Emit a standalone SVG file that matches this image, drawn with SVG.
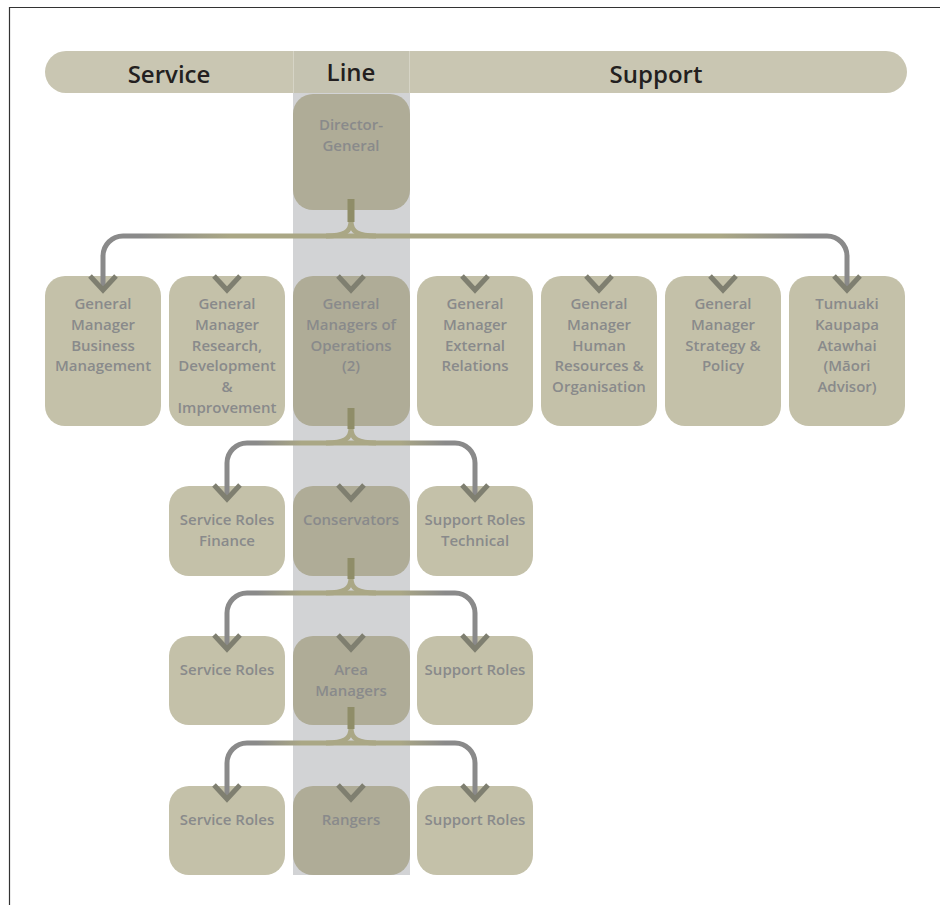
<svg xmlns="http://www.w3.org/2000/svg" width="940" height="905" viewBox="0 0 940 905">
<defs>
<style>
.hdr{font-family:"Open Sans","Liberation Sans",sans-serif;font-weight:600;font-size:24px;fill:#231f20;text-anchor:middle}
.nt{font-family:"Open Sans","Liberation Sans",sans-serif;font-weight:600;font-size:15px;fill:#898a8b;text-anchor:middle}
.n{fill:#c4c1a9}
.nl{fill:#afac97}
.stem{fill:#8f8d68}
.ln{fill:none;stroke-width:5;stroke-linecap:butt}
.chev{fill:none;stroke:#7f7f70;stroke-width:5;stroke-linejoin:miter}
</style>
<linearGradient id="h2" gradientUnits="userSpaceOnUse" x1="103" y1="0" x2="847" y2="0">
<stop offset="0" stop-color="#8a8a8a"/>
<stop offset="0.05" stop-color="#8a8a8a"/>
<stop offset="0.17" stop-color="#aaa785"/>
<stop offset="0.83" stop-color="#aaa785"/>
<stop offset="0.95" stop-color="#8a8a8a"/>
<stop offset="1" stop-color="#8a8a8a"/>
</linearGradient>
<linearGradient id="h3" gradientUnits="userSpaceOnUse" x1="227" y1="0" x2="475" y2="0">
<stop offset="0" stop-color="#8a8a8a"/>
<stop offset="0.12" stop-color="#8a8a8a"/>
<stop offset="0.3" stop-color="#aaa785"/>
<stop offset="0.7" stop-color="#aaa785"/>
<stop offset="0.88" stop-color="#8a8a8a"/>
<stop offset="1" stop-color="#8a8a8a"/>
</linearGradient>
<linearGradient id="v" x1="0" y1="0" x2="0" y2="1">
<stop offset="0" stop-color="#a6a381"/>
<stop offset="0.45" stop-color="#a6a381"/>
<stop offset="1" stop-color="#8a8a86"/>
</linearGradient>
<path id="ch" class="chev" d="M-13,-15 L0,-1 L13,-15"/>
</defs>

<rect x="0" y="0" width="940" height="905" fill="#ffffff"/>
<path d="M9.5,905 V7.5 H940" fill="none" stroke="#333333" stroke-width="1.2"/>

<g id="column">
<rect x="293" y="51" width="117" height="824" fill="#d2d3d5"/>
</g>

<g id="header">
<rect x="45" y="51" width="862" height="42" rx="21" fill="#c9c6b2"/>
<rect x="293" y="51" width="117" height="42" fill="#c5c3b1"/>
<line x1="293.5" y1="51" x2="293.5" y2="93" stroke="#d6d4c6" stroke-width="1"/>
<line x1="409.5" y1="51" x2="409.5" y2="93" stroke="#d6d4c6" stroke-width="1"/>
<text class="hdr" x="169" y="83">Service</text>
<text class="hdr" x="351" y="81">Line</text>
<text class="hdr" x="656" y="83">Support</text>
</g>

<g id="dg"><rect class="nl" x="293" y="94" width="117" height="116" rx="20"/>
<text class="nt" x="351" y="130">Director-</text><text class="nt" x="351" y="151">General</text></g>

<g id="gm-business"><rect class="n" x="45" y="276" width="116" height="150" rx="20"/>
<text class="nt" x="103" y="309">General</text><text class="nt" x="103" y="329.8">Manager</text><text class="nt" x="103" y="350.6">Business</text><text class="nt" x="103" y="371.4">Management</text></g>

<g id="gm-research"><rect class="n" x="169" y="276" width="116" height="150" rx="20"/>
<text class="nt" x="227" y="309">General</text><text class="nt" x="227" y="329.8">Manager</text><text class="nt" x="227" y="350.6">Research,</text><text class="nt" x="227" y="371.4">Development</text><text class="nt" x="227" y="392.2">&amp;</text><text class="nt" x="227" y="413">Improvement</text></g>

<g id="gm-operations"><rect class="nl" x="293" y="276" width="117" height="150" rx="20"/>
<text class="nt" x="351" y="309">General</text><text class="nt" x="351" y="329.8">Managers of</text><text class="nt" x="351" y="350.6">Operations</text><text class="nt" x="351" y="371.4">(2)</text></g>

<g id="gm-external"><rect class="n" x="417" y="276" width="116" height="150" rx="20"/>
<text class="nt" x="475" y="309">General</text><text class="nt" x="475" y="329.8">Manager</text><text class="nt" x="475" y="350.6">External</text><text class="nt" x="475" y="371.4">Relations</text></g>

<g id="gm-hr"><rect class="n" x="541" y="276" width="116" height="150" rx="20"/>
<text class="nt" x="599" y="309">General</text><text class="nt" x="599" y="329.8">Manager</text><text class="nt" x="599" y="350.6">Human</text><text class="nt" x="599" y="371.4">Resources &amp;</text><text class="nt" x="599" y="392.2">Organisation</text></g>

<g id="gm-strategy"><rect class="n" x="665" y="276" width="116" height="150" rx="20"/>
<text class="nt" x="723" y="309">General</text><text class="nt" x="723" y="329.8">Manager</text><text class="nt" x="723" y="350.6">Strategy &amp;</text><text class="nt" x="723" y="371.4">Policy</text></g>

<g id="tumuaki"><rect class="n" x="789" y="276" width="116" height="150" rx="20"/>
<text class="nt" x="847" y="309">Tumuaki</text><text class="nt" x="847" y="329.8">Kaupapa</text><text class="nt" x="847" y="350.6">Atawhai</text><text class="nt" x="847" y="371.4">(Māori</text><text class="nt" x="847" y="392.2">Advisor)</text></g>

<g id="service-finance"><rect class="n" x="169" y="486" width="116" height="90" rx="20"/>
<text class="nt" x="227" y="525">Service Roles</text><text class="nt" x="227" y="545.8">Finance</text></g>
<g id="conservators"><rect class="nl" x="293" y="486" width="117" height="90" rx="20"/>
<text class="nt" x="351" y="525">Conservators</text></g>
<g id="support-technical"><rect class="n" x="417" y="486" width="116" height="90" rx="20"/>
<text class="nt" x="475" y="525">Support Roles</text><text class="nt" x="475" y="545.8">Technical</text></g>

<g id="service-roles-1"><rect class="n" x="169" y="636" width="116" height="89" rx="20"/>
<text class="nt" x="227" y="675">Service Roles</text></g>
<g id="area-managers"><rect class="nl" x="293" y="636" width="117" height="89" rx="20"/>
<text class="nt" x="351" y="675">Area</text><text class="nt" x="351" y="695.8">Managers</text></g>
<g id="support-roles-1"><rect class="n" x="417" y="636" width="116" height="89" rx="20"/>
<text class="nt" x="475" y="675">Support Roles</text></g>

<g id="service-roles-2"><rect class="n" x="169" y="786" width="116" height="89" rx="20"/>
<text class="nt" x="227" y="825">Service Roles</text></g>
<g id="rangers"><rect class="nl" x="293" y="786" width="117" height="89" rx="20"/>
<text class="nt" x="351" y="825">Rangers</text></g>
<g id="support-roles-2"><rect class="n" x="417" y="786" width="116" height="89" rx="20"/>
<text class="nt" x="475" y="825">Support Roles</text></g>

<g id="connectors">
<!-- level 1 to 2 -->
<path class="ln" stroke="url(#h2)" d="M103,288 V256 A20,20 0 0 1 123,236 H827 A20,20 0 0 1 847,256 V288"/>
<path class="ln" stroke="#aaa785" d="M351,221 C351,232 344,236 326,236 M351,221 C351,232 358,236 376,236"/>
<path class="ln" stroke="url(#v)" d="M351,221 V288"/>
<path class="ln" stroke="url(#v)" d="M227,236 V288"/>
<path class="ln" stroke="url(#v)" d="M475,236 V288"/>
<path class="ln" stroke="url(#v)" d="M599,236 V288"/>
<path class="ln" stroke="url(#v)" d="M723,236 V288"/>
<rect class="stem" x="347.5" y="199" width="7" height="23"/>
<use href="#ch" x="103" y="291"/>
<use href="#ch" x="227" y="291"/>
<use href="#ch" x="351" y="291"/>
<use href="#ch" x="475" y="291"/>
<use href="#ch" x="599" y="291"/>
<use href="#ch" x="723" y="291"/>
<use href="#ch" x="847" y="291"/>

<!-- level 2 to 3 -->
<path class="ln" stroke="url(#h3)" d="M227,497 V463 A20,20 0 0 1 247,443 H455 A20,20 0 0 1 475,463 V497"/>
<path class="ln" stroke="#aaa785" d="M351,428 C351,439 344,443 326,443 M351,428 C351,439 358,443 376,443"/>
<path class="ln" stroke="url(#v)" d="M351,428 V497"/>
<rect class="stem" x="347.5" y="408" width="7" height="21"/>
<use href="#ch" x="227" y="500"/>
<use href="#ch" x="351" y="500"/>
<use href="#ch" x="475" y="500"/>

<!-- level 3 to 4 -->
<path class="ln" stroke="url(#h3)" d="M227,647 V613 A20,20 0 0 1 247,593 H455 A20,20 0 0 1 475,613 V647"/>
<path class="ln" stroke="#aaa785" d="M351,578 C351,589 344,593 326,593 M351,578 C351,589 358,593 376,593"/>
<path class="ln" stroke="url(#v)" d="M351,578 V647"/>
<rect class="stem" x="347.5" y="558" width="7" height="21"/>
<use href="#ch" x="227" y="650"/>
<use href="#ch" x="351" y="650"/>
<use href="#ch" x="475" y="650"/>

<!-- level 4 to 5 -->
<path class="ln" stroke="url(#h3)" d="M227,797 V763 A20,20 0 0 1 247,743 H455 A20,20 0 0 1 475,763 V797"/>
<path class="ln" stroke="#aaa785" d="M351,728 C351,739 344,743 326,743 M351,728 C351,739 358,743 376,743"/>
<path class="ln" stroke="url(#v)" d="M351,728 V797"/>
<rect class="stem" x="347.5" y="707" width="7" height="22"/>
<use href="#ch" x="227" y="800"/>
<use href="#ch" x="351" y="800"/>
<use href="#ch" x="475" y="800"/>
</g>
</svg>
